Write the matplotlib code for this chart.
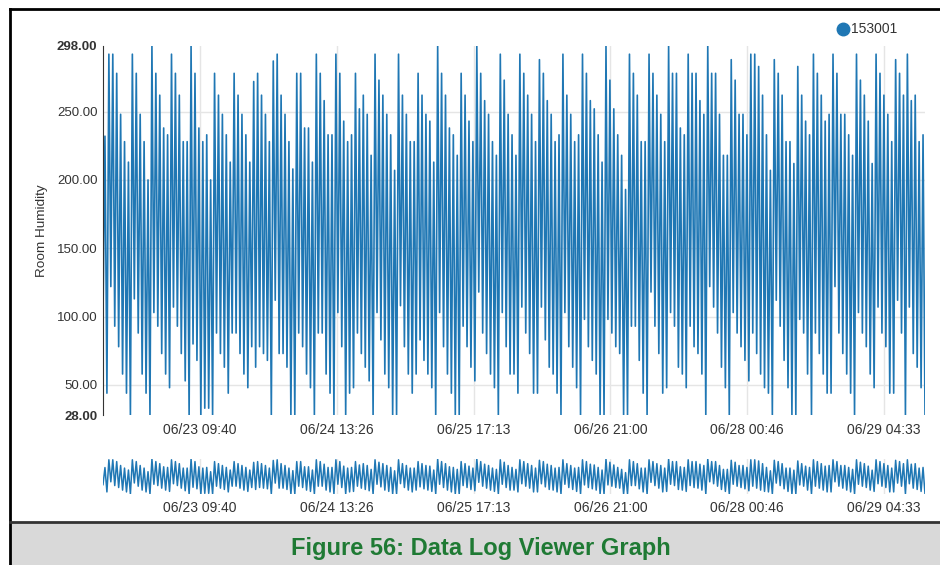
import numpy as np
import pandas as pd
import matplotlib
matplotlib.use("Agg")
import matplotlib.pyplot as plt
from matplotlib.lines import Line2D
from matplotlib.patches import Rectangle

plt.rcParams['font.family'] = ['Liberation Sans', 'DejaVu Sans']

# peak and trough values, left to right
peaks = [232, 292, 292, 278, 248, 228, 213, 292, 278, 248, 228, 200, 298, 278, 262, 238, 233,
         292, 278, 262, 228, 228, 298, 278, 238, 228, 233, 200, 278, 262, 248, 233, 213, 278,
         262, 248, 233, 213, 272, 278, 262, 248, 228, 287, 292, 262, 248, 228, 208, 278, 278,
         238, 238, 213, 292,
         278, 258, 233, 233, 292, 278, 243, 228, 233, 278, 252, 262, 248, 218, 292, 273, 262,
         248, 233, 207, 292, 262, 248, 228, 228, 278, 262, 248, 243, 213, 298, 278, 262, 238,
         233, 218, 278, 262, 243, 228, 298, 278, 258, 248, 228, 218, 292, 273, 248, 233, 218,
         292, 278, 262, 248, 228, 288, 278, 258, 248, 228, 233, 292, 262, 248, 228, 233, 292,
         278, 258, 252, 233, 213, 298, 273, 252, 233,
         218, 193, 292, 278, 262, 228, 228, 292, 278, 262, 248, 228, 298, 278, 278, 238, 233,
         292, 278, 278, 258, 248, 298, 278, 278, 248, 218, 218, 288, 273, 248, 248, 233, 292,
         292, 283, 262, 233, 207, 288, 278, 262, 228, 228, 212, 283, 262, 243, 233, 292, 278,
         262, 243, 248, 292, 278, 248, 248, 233, 218, 292, 273, 262, 243, 212, 292, 278, 262,
         248, 228, 288, 278, 262, 292, 258, 262, 228, 233]
troughs = [44, 122, 93, 78, 58, 44, 28, 113, 88, 58, 44, 28, 103, 93, 73, 58, 48, 107, 93, 73,
           53, 28, 80, 68, 28, 33, 33, 28, 88, 73, 63, 44, 88, 88, 73, 58, 48, 78, 63, 78, 73,
           68, 28, 112, 73, 73, 63, 28, 28, 88, 78, 58, 48, 28,
           88, 88, 58, 44, 28, 103, 78, 28, 44, 48, 88, 73, 63, 53, 28, 103, 83, 58, 48, 28, 28,
           108, 78, 58, 44, 58, 83, 68, 58, 48, 28, 103, 78, 58, 44, 28, 28, 93, 78, 63, 53, 118,
           88, 73, 58, 48, 28, 103, 78, 58, 58, 44, 107, 88, 73, 44, 44, 107, 83, 63, 58, 44, 28,
           103, 78, 63, 48, 28, 98, 78, 68, 58, 28, 28, 98, 88, 78, 73,
           28, 28, 93, 93, 68, 44, 28, 118, 93, 73, 44, 48, 103, 93, 63, 58, 48, 93, 78, 73, 58,
           28, 122, 107, 88, 63, 48, 28, 103, 88, 78, 68, 53, 88, 73, 58, 48, 44, 28, 112, 93,
           68, 48, 28, 28, 98, 88, 58, 28, 88, 73, 58, 44, 44, 122, 88, 73, 58, 44, 28, 103, 88,
           78, 58, 48, 107, 88, 78, 44, 44, 112, 88, 28, 107, 73, 63, 48, 28]
start_value = 100

tick_times = ["2016-06-23 09:40", "2016-06-24 13:26", "2016-06-25 17:13",
              "2016-06-26 21:00", "2016-06-28 00:46", "2016-06-29 04:33"]
tick_labels = ["06/23 09:40", "06/24 13:26", "06/25 17:13",
               "06/26 21:00", "06/28 00:46", "06/29 04:33"]
y_ticks = [28, 50, 100, 150, 200, 250, 298]
series_name = "153001"

n = min(len(peaks), len(troughs))
values = [start_value]
for p, t in zip(peaks[:n], troughs[:n]):
    values += [p, t]
times = pd.date_range("2016-06-22 13:58", "2016-06-29 12:52", periods=len(values))
ticks = pd.to_datetime(tick_times)

W, H = 940, 565
fig = plt.figure(figsize=(W / 100, H / 100), dpi=100)
blue = "#1f77b4"

def box(l, t, r, b):
    return [l / W, 1 - b / H, (r - l) / W, (b - t) / H]

# main chart
ax = fig.add_axes(box(103, 46, 925, 415))
ax.plot(times, values, color=blue, lw=1.2)
ax.set_xlim(times[0], times[-1])
ax.set_ylim(28, 298)
ax.set_yticks(y_ticks)
ax.set_yticklabels(["%.2f" % v for v in y_ticks])
for lab, v in zip(ax.get_yticklabels(), y_ticks):
    if v in (28, 298):
        lab.set_fontweight("bold")
        lab.set_color("#111111")
ax.set_xticks(ticks)
ax.set_xticklabels(tick_labels)
ax.tick_params(axis="x", length=0, labelsize=10, colors="#333333", pad=6)
ax.tick_params(axis="y", length=0, labelsize=9.5, colors="#333333", pad=4)
for v in y_ticks[1:-1]:
    ax.axhline(v, color="#e5e5e5", lw=1, zorder=0)
for t in ticks:
    ax.axvline(t, color="#e5e5e5", lw=1, zorder=0)
for s in ["top", "right", "bottom"]:
    ax.spines[s].set_visible(False)
ax.spines["left"].set_color("#333333")
ax.set_ylabel("Room Humidity", fontsize=9.7, color="#333333", labelpad=6)

# overview strip
ov = fig.add_axes(box(103, 459, 925, 494))
ov.plot(times, values, color=blue, lw=1.1)
ov.set_xlim(times[0], times[-1])
ov.set_ylim(28, 298)
ov.set_yticks([])
ov.set_xticks(ticks)
ov.set_xticklabels(tick_labels)
ov.tick_params(length=0, labelsize=10, colors="#333333", pad=5)
for t in ticks:
    ov.axvline(t, color="#e5e5e5", lw=1, zorder=0)
for s in ov.spines.values():
    s.set_visible(False)

# legend
fig.add_artist(Line2D([843 / W], [1 - 29 / H], marker="o", markersize=9,
                      color=blue, linestyle="none", transform=fig.transFigure))
fig.text(851 / W, 1 - 29 / H, series_name, fontsize=10, color="#333333",
         va="center", ha="left")

# frame and caption
fig.add_artist(Rectangle((10 / W, 0), 1 - 10 / W, (H - 522) / H,
                         transform=fig.transFigure, facecolor="#d9d9d9",
                         edgecolor="none", zorder=-1))
fig.add_artist(Line2D([10 / W, 1], [1 - 9 / H, 1 - 9 / H], color="black", lw=2,
                      transform=fig.transFigure))
fig.add_artist(Line2D([10 / W, 10 / W], [0, 1 - 9 / H], color="black", lw=2,
                      transform=fig.transFigure))
fig.add_artist(Line2D([10 / W, 1], [1 - 522 / H, 1 - 522 / H], color="#333333", lw=2,
                      transform=fig.transFigure))
fig.text(481 / W, 1 - 548 / H, "Figure 56: Data Log Viewer Graph", fontsize=17,
         fontweight="bold", color="#1f7a34", ha="center", va="center")

fig.savefig("out.png", dpi=100)
